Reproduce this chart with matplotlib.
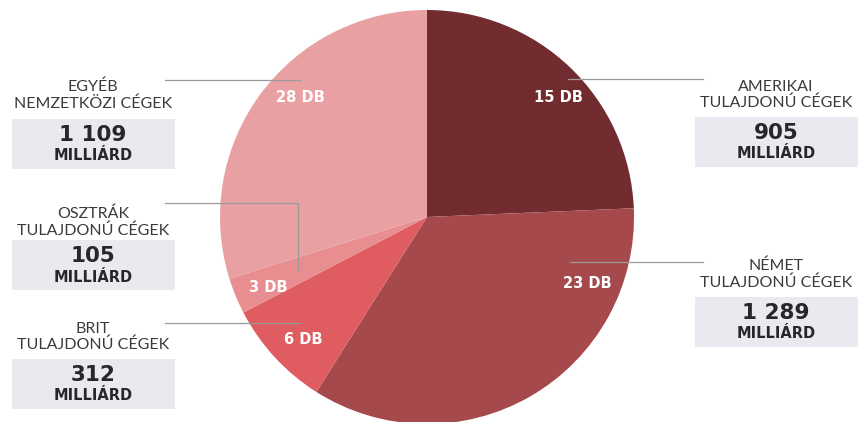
import matplotlib
matplotlib.use("Agg")
import matplotlib.pyplot as plt
from matplotlib.patches import Rectangle

# ---- data ----
categories = ["AMERIKAI\nTULAJDONÚ CÉGEK", "NÉMET\nTULAJDONÚ CÉGEK", "BRIT\nTULAJDONÚ CÉGEK",
              "OSZTRÁK\nTULAJDONÚ CÉGEK", "EGYÉB\nNEMZETKÖZI CÉGEK"]
values = [905, 1289, 312, 105, 1109]          # milliárd
value_labels = ["905", "1 289", "312", "105", "1 109"]
counts = ["15 DB", "23 DB", "6 DB", "3 DB", "28 DB"]
colors = ["#722c30", "#a6494c", "#df5d60", "#e88e90", "#e9a0a3"]

W, H = 859, 422
fig = plt.figure(figsize=(W / 100, H / 100), dpi=100)
ax = fig.add_axes([0, 0, 1, 1])

def Y(y):
    return H - y

cx, cy, R = 427, 217, 207
ax.pie(values, colors=colors, startangle=90, counterclock=False,
       center=(cx, Y(cy)), radius=R, frame=True,
       wedgeprops=dict(linewidth=0))
ax.set_xlim(0, W)
ax.set_ylim(0, H)
ax.set_aspect("equal")
ax.axis("off")

# in-pie count labels (pixel positions)
count_pos = [(558, 97), (587, 283), (303, 340), (268, 287), (300, 97)]
for (x, y), t in zip(count_pos, counts):
    ax.text(x, Y(y), t, color="white", fontsize=10.5, fontweight="bold",
            family="DejaVu Sans", ha="center", va="center")

# leader lines
line_col = "#9a9a9a"
ax.plot([568, 703], [Y(79), Y(79)], color=line_col, lw=0.9)
ax.plot([570, 703], [Y(262), Y(262)], color=line_col, lw=0.9)
ax.plot([165, 300], [Y(80), Y(80)], color=line_col, lw=0.9)
ax.plot([165, 298, 298], [Y(203), Y(203), Y(270)], color=line_col, lw=0.9)
ax.plot([165, 300], [Y(323), Y(323)], color=line_col, lw=0.9)

# side label blocks: (center x, title block center y, box top y)
blocks = [(776, 95, 117), (776, 274, 297), (93, 337, 359), (93, 222, 240), (93, 95, 119)]
box_w, box_h = 163, 50
for (bx, ty, by), cat, vl in zip(blocks, categories, value_labels):
    ax.text(bx, Y(ty), cat, ha="center", va="center", fontsize=11.5,
            family="Lato", fontweight="normal", color="#3a3a3a", linespacing=1.2)
    ax.add_patch(Rectangle((bx - box_w / 2, Y(by + box_h)), box_w, box_h,
                           facecolor="#e9eaef", edgecolor="none"))
    ax.text(bx, Y(by + 16), vl, ha="center", va="center", fontsize=15.5,
            family="DejaVu Sans", fontweight="bold", color="#26262c")
    ax.text(bx, Y(by + 37), "MILLIÁRD", ha="center", va="center", fontsize=10.5,
            family="DejaVu Sans", fontweight="bold", color="#26262c")

fig.savefig("out.png", dpi=100)
